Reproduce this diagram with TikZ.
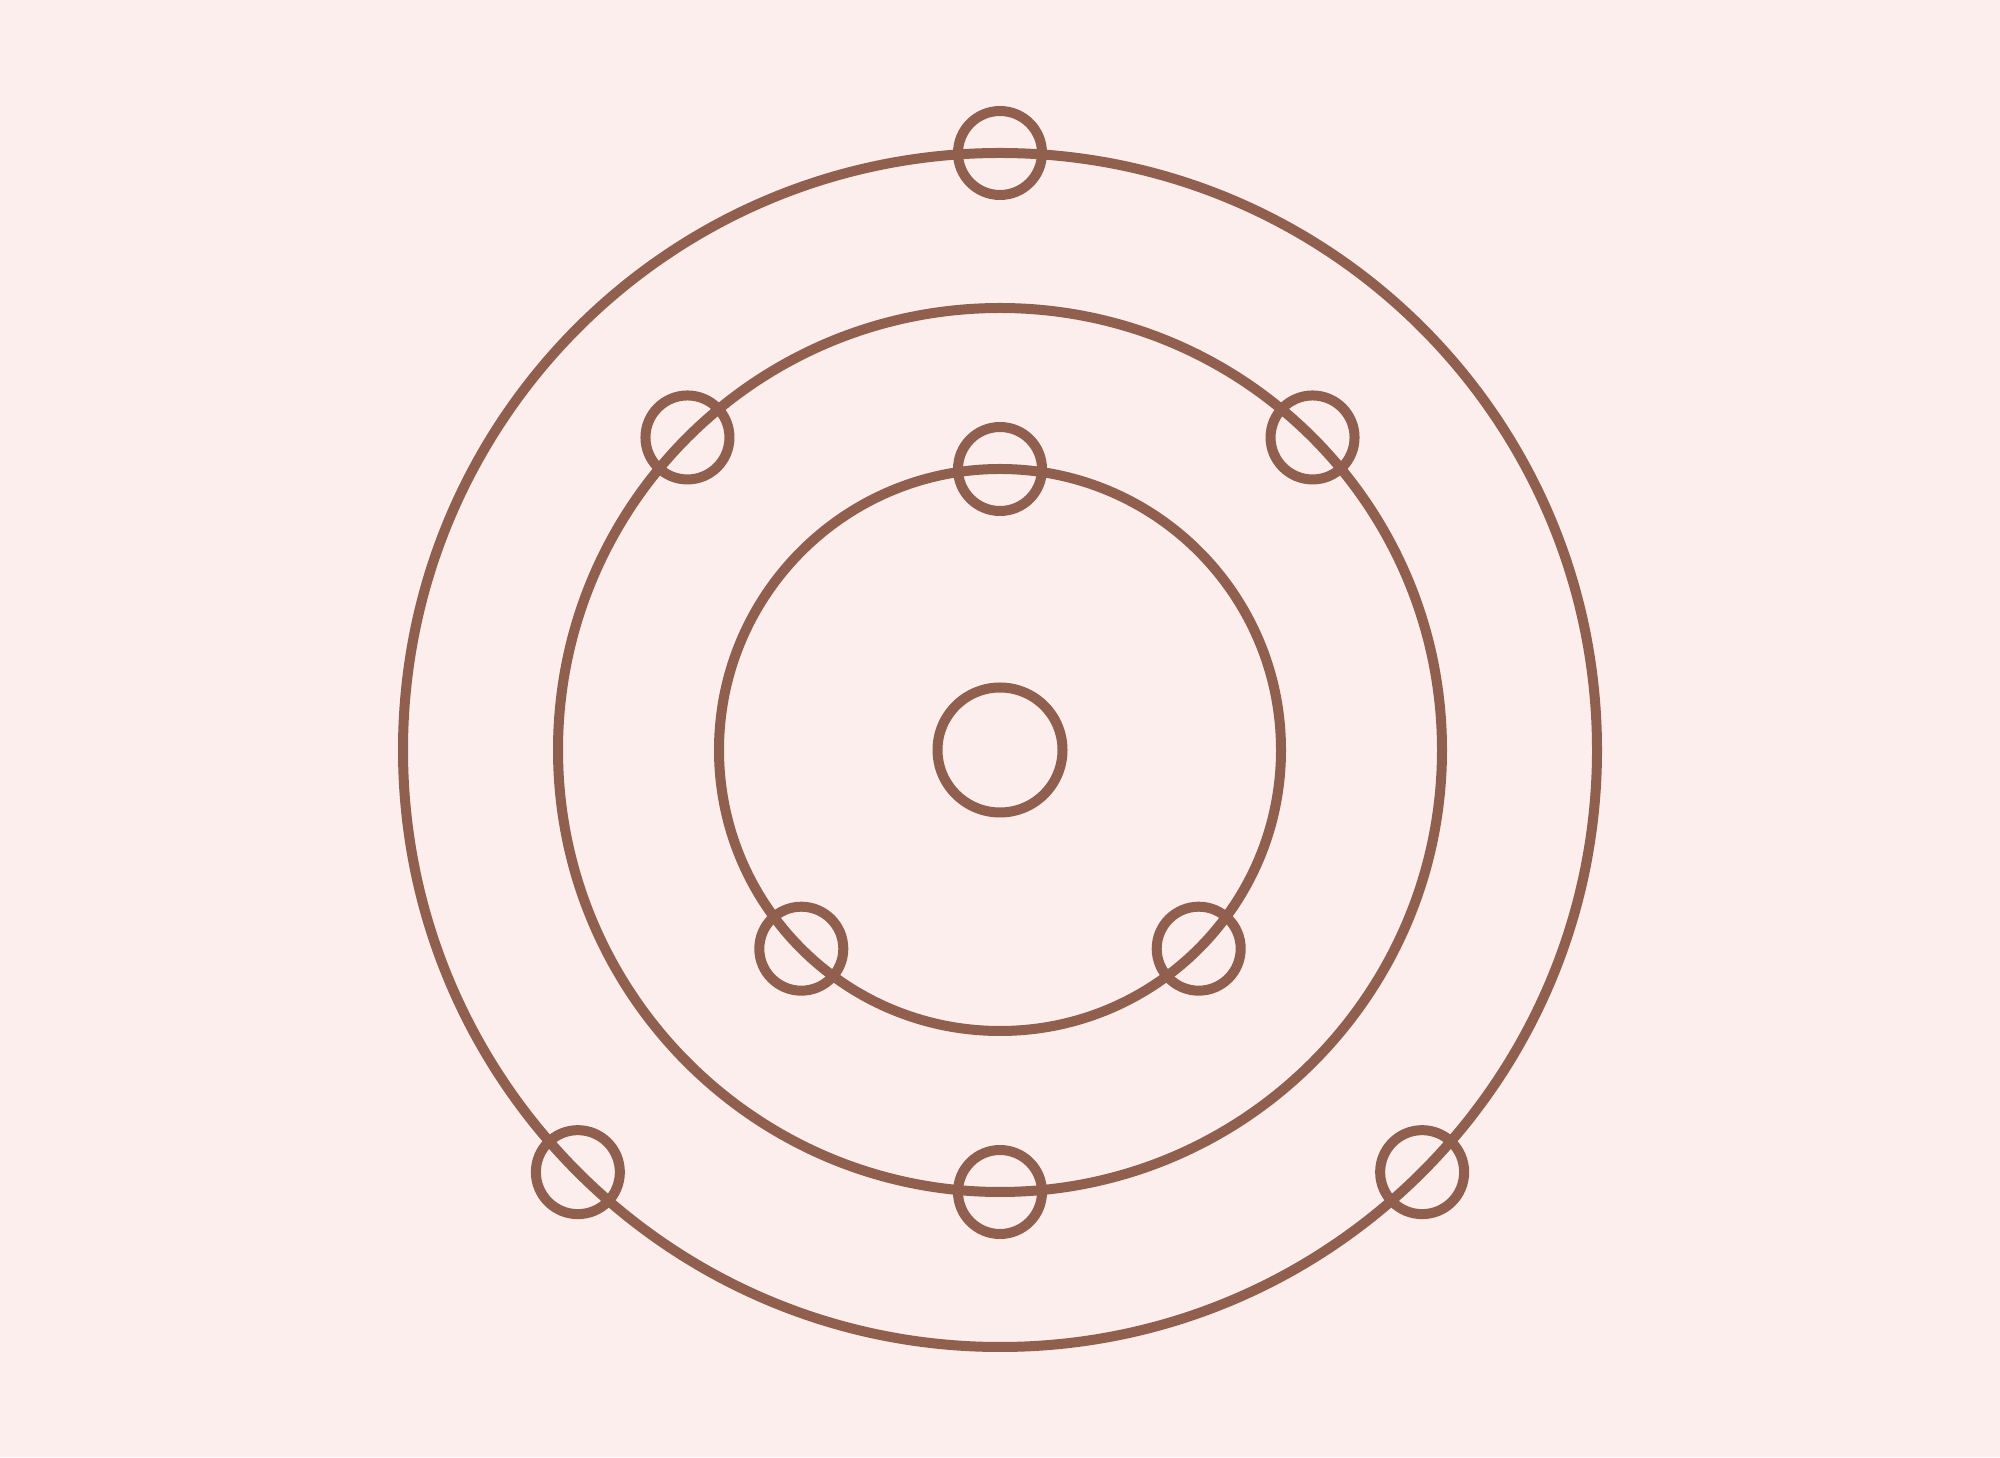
\documentclass[tikz,border=0pt]{standalone}
\usetikzlibrary{calc}
\definecolor{bg}{HTML}{FCEEEC}
\definecolor{ink}{HTML}{915F4D}
\begin{document}
\begin{tikzpicture}[x=1pt,y=1pt,
  electron/.style={draw=ink,line width=10pt,circle,inner sep=0pt,minimum size=84pt}]
\fill[bg] (0,0) rectangle (2000,1457);
\useasboundingbox (0,0) rectangle (2000,1457);
\coordinate (c) at (1000,707);
\draw[ink,line width=10pt] (c) circle (597);
\draw[ink,line width=10pt] (c) circle (442);
\draw[ink,line width=10pt] (c) circle (281);
\node[electron,minimum size=125pt] (nucleus) at (c) {};
% inner shell
\node[electron] (e1) at ($(c)+(90:281)$) {};
\node[electron] (e2) at ($(c)+(225:281)$) {};
\node[electron] (e3) at ($(c)+(315:281)$) {};
% middle shell
\node[electron] (e4) at ($(c)+(45:442)$) {};
\node[electron] (e5) at ($(c)+(135:442)$) {};
\node[electron] (e6) at ($(c)+(270:442)$) {};
% outer shell
\node[electron] (e7) at ($(c)+(90:597)$) {};
\node[electron] (e8) at ($(c)+(225:597)$) {};
\node[electron] (e9) at ($(c)+(315:597)$) {};
\end{tikzpicture}
\end{document}
